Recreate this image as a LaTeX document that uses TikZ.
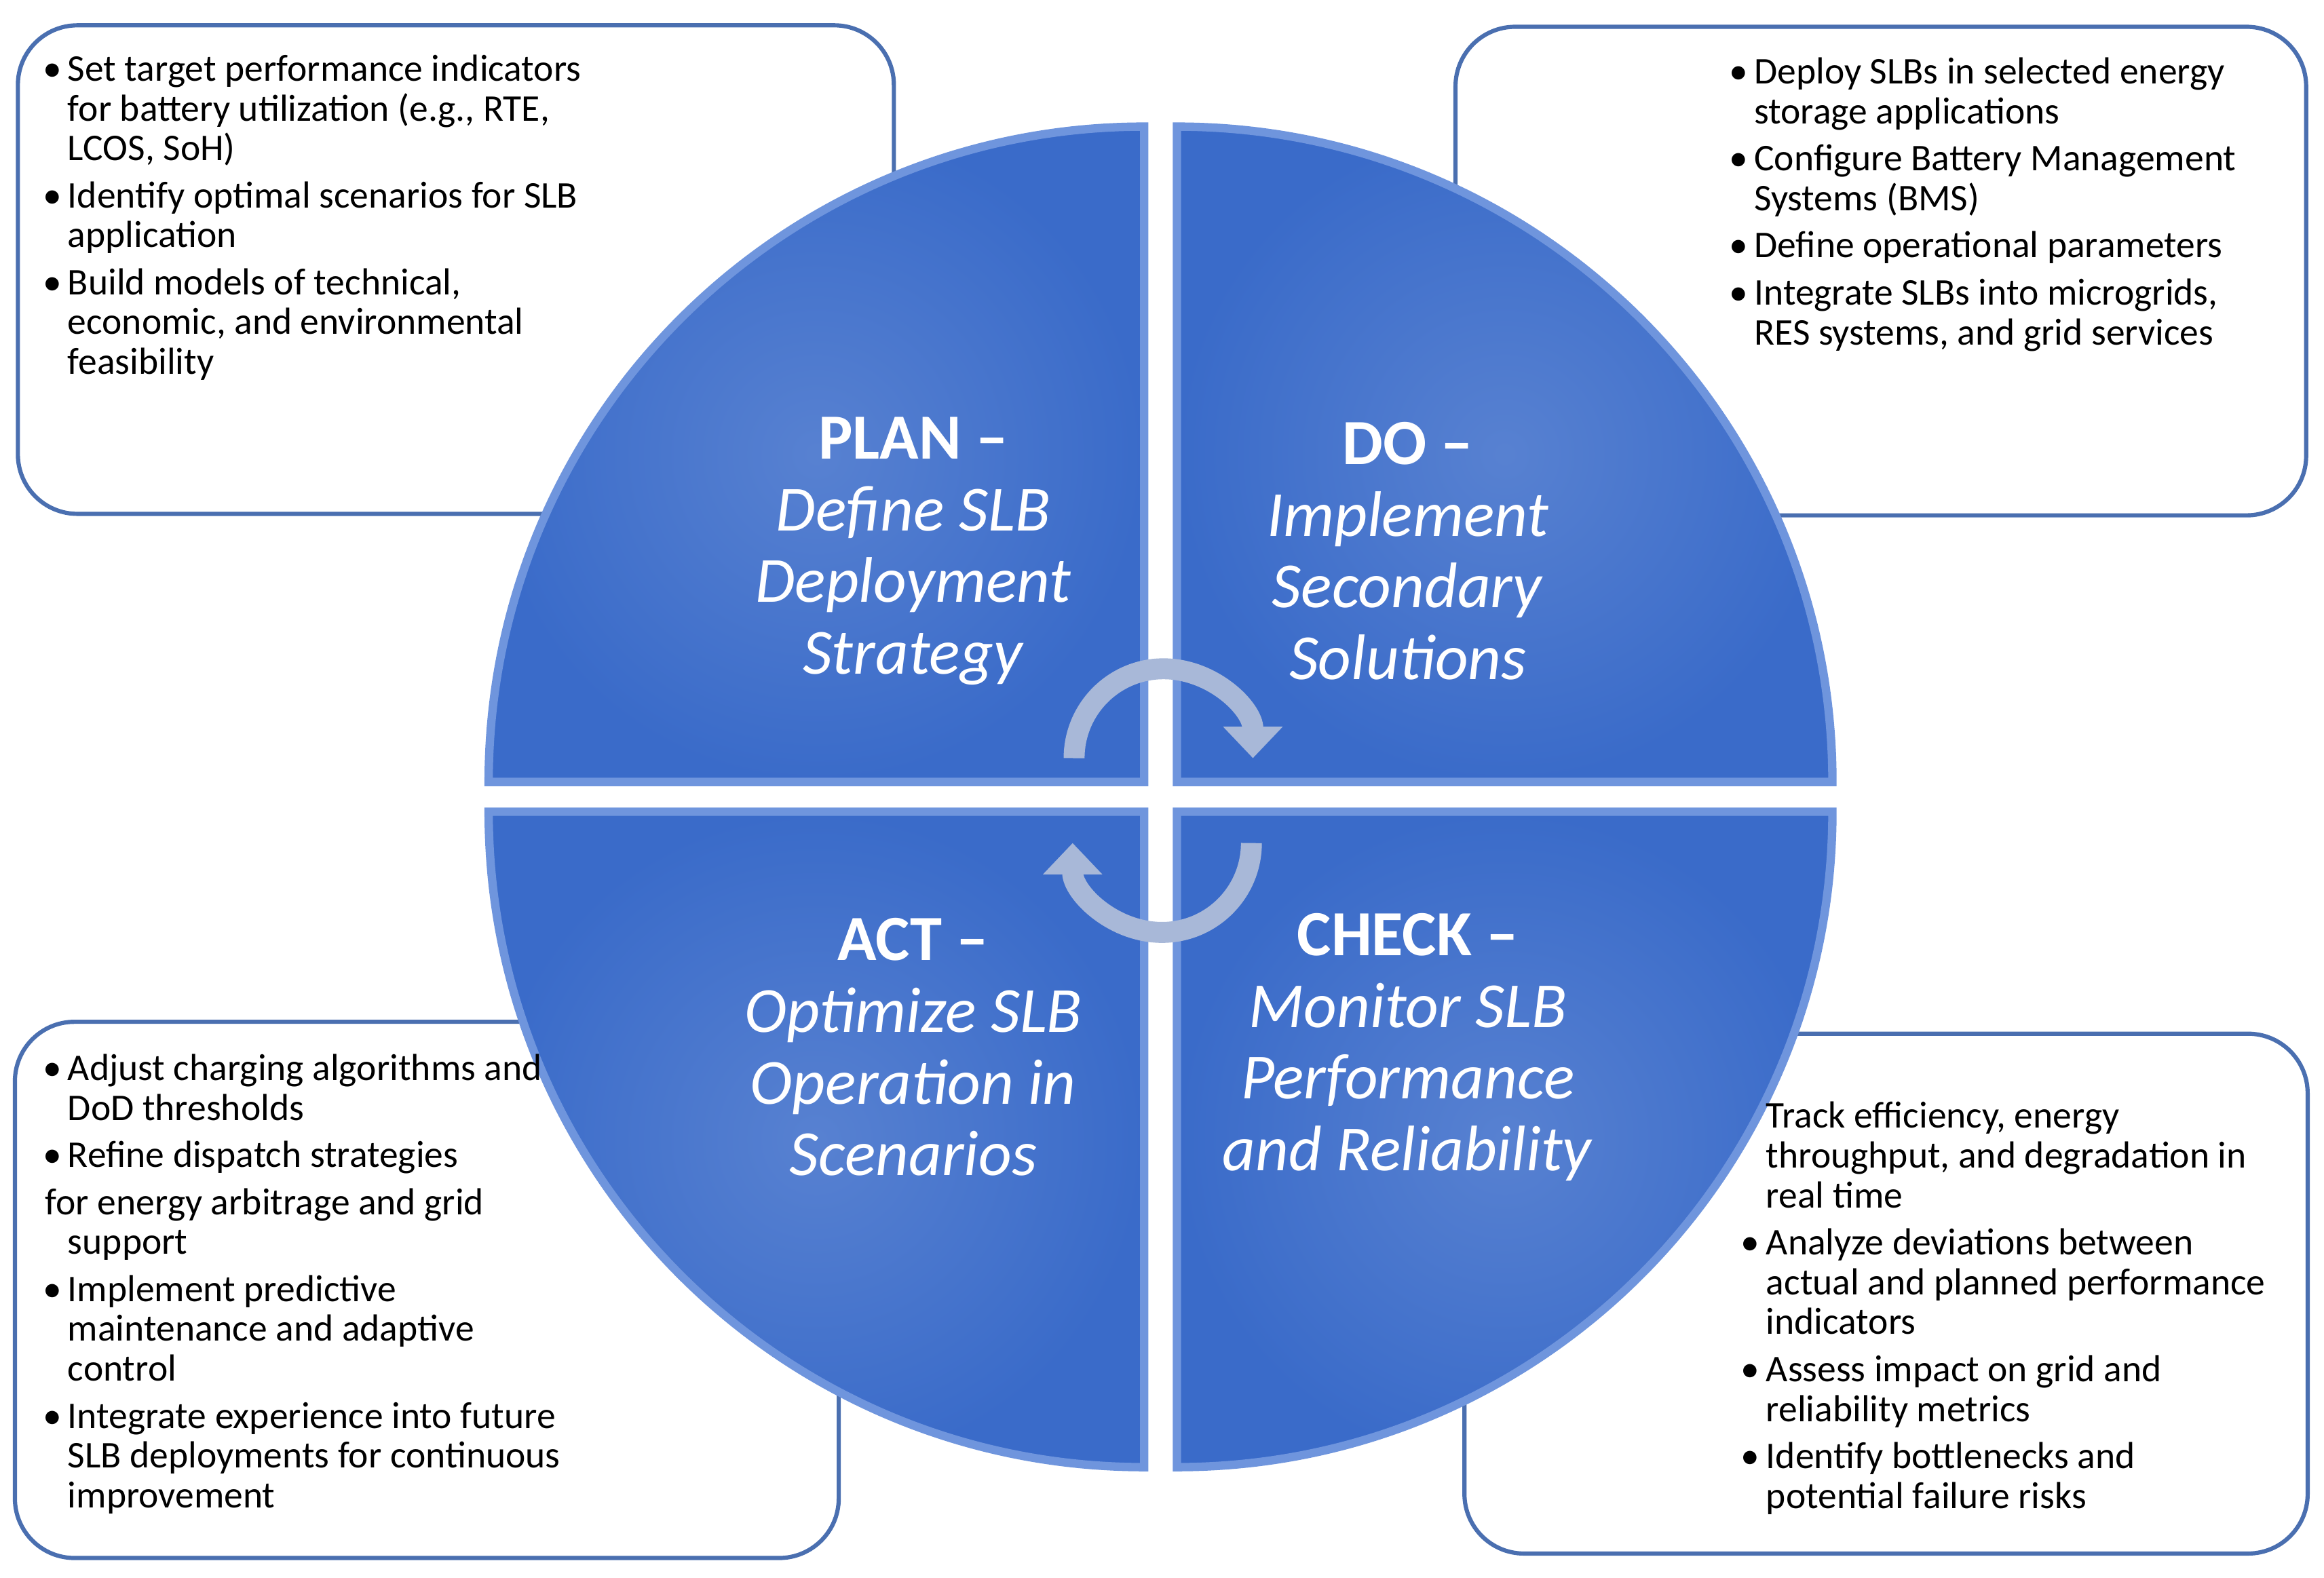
\documentclass[tikz,border=0pt]{standalone}
\usepackage{fontspec}
\setmainfont{Carlito}
\usetikzlibrary{arrows.meta,shadings}
\definecolor{qblue}{HTML}{3A6BC9}
\definecolor{qlight}{HTML}{6F95DD}
\definecolor{qdark}{HTML}{2F5597}
\definecolor{bxline}{HTML}{4A6FB0}
\definecolor{arr}{HTML}{A8B8D8}
\definecolor{arrd}{HTML}{6F84AE}
\tikzset{
 quad/.style={inner color=qblue!85!white, outer color=qblue, draw=qlight, line width=1.6pt},
 box/.style={draw=bxline, line width=0.8pt, fill=white, rounded corners=0.4cm},
 txt/.style={anchor=north west, inner sep=0pt, font=\fontsize{7.2}{7.6}\selectfont, align=left},
 head/.style={text=white, align=center, font=\fontsize{12.3}{13.7}\selectfont},
 cyc/.style={line width=4pt, arr, -{Triangle[length=6pt,width=11pt]}},
}
\newcommand{\hb}[1]{\textbf{#1}}
\newcommand{\bu}{\textbullet\hspace{-1pt}}
\begin{document}
\begin{tikzpicture}
\useasboundingbox (0,0) rectangle (15.6,10.59);
% boxes
\draw[box] (0.12,10.42) rectangle (6.00,7.14);
\draw[box] (9.77,10.41) rectangle (15.48,7.13);
\draw[box] (0.10,3.73) rectangle (5.63,0.13);
\draw[box] (9.83,3.65) rectangle (15.49,0.16);
% quadrants
\path[quad] (7.68,5.34) -- ++(-4.4,0) arc (180:90:4.4) -- cycle;
\path[quad] (7.90,5.34) -- ++(0,4.4) arc (90:0:4.4) -- cycle;
\path[quad] (7.68,5.14) -- ++(0,-4.4) arc (270:180:4.4) -- cycle;
\path[quad] (7.90,5.14) -- ++(4.4,0) arc (0:-90:4.4) -- cycle;
% texts
\node[txt] (tl) at (0.28,10.24) {%
\begin{tabular}{@{}l@{\,}l@{}}
\bu & Set target performance indicators\\
 & for battery utilization (e.g., RTE,\\
 & LCOS, SoH)\\[1.4pt]
\bu & Identify optimal scenarios for SLB\\
 & application\\[1.4pt]
\bu & Build models of technical,\\
 & economic, and environmental\\
 & feasibility
\end{tabular}};
\node[txt] (tr) at (11.60,10.22) {%
\begin{tabular}{@{}l@{\,}l@{}}
\bu & Deploy SLBs in selected energy\\
 & storage applications\\[1.4pt]
\bu & Configure Battery Management\\
 & Systems (BMS)\\[1.4pt]
\bu & Define operational parameters\\[1.4pt]
\bu & Integrate SLBs into microgrids,\\
 & RES systems, and grid services
\end{tabular}};
\node[txt] (bl) at (0.28,3.53) {%
\begin{tabular}{@{}l@{\,}l@{}}
\bu & Adjust charging algorithms and\\
 & DoD thresholds\\[1.4pt]
\bu & Refine dispatch strategies\\[1.4pt]
\multicolumn{2}{@{\hspace{0.5pt}}l}{for energy arbitrage and grid}\\
 & support\\[1.4pt]
\bu & Implement predictive\\
 & maintenance and adaptive\\
 & control\\[1.4pt]
\bu & Integrate experience into future\\
 & SLB deployments for continuous\\
 & improvement
\end{tabular}};
\node[txt] (br) at (11.68,3.21) {%
\begin{tabular}{@{}l@{\,}l@{}}
 & Track efficiency, energy\\
 & throughput, and degradation in\\
 & real time\\[1.4pt]
\bu & Analyze deviations between\\
 & actual and planned performance\\
 & indicators\\[1.4pt]
\bu & Assess impact on grid and\\
 & reliability metrics\\[1.4pt]
\bu & Identify bottlenecks and\\
 & potential failure risks
\end{tabular}};
% headings
\node[head] (plan) at (6.13,6.89) {\hb{PLAN –}\\ \textit{Define SLB}\\ \textit{Deployment}\\ \textit{Strategy}};
\node[head] (do) at (9.45,6.89) {\hb{DO –}\\ \textit{Implement}\\ \textit{Secondary}\\ \textit{Solutions}};
\node[head] (act) at (6.13,3.56) {\hb{ACT –}\\ \textit{Optimize SLB}\\ \textit{Operation in}\\ \textit{Scenarios}};
\node[head] (check) at (9.45,3.56) {\hb{CHECK –}\\ \textit{Monitor SLB}\\ \textit{Performance}\\ \textit{and Reliability}};
% cycle arrows
\coordinate (a1) at (7.21,5.50);
\coordinate (b1) at (7.98,4.93);
\draw[cyc] (a1) arc (180:0:0.6);
\draw[cyc] (b1) ++(0.42,0) arc (0:-180:0.6);
\end{tikzpicture}
\end{document}
